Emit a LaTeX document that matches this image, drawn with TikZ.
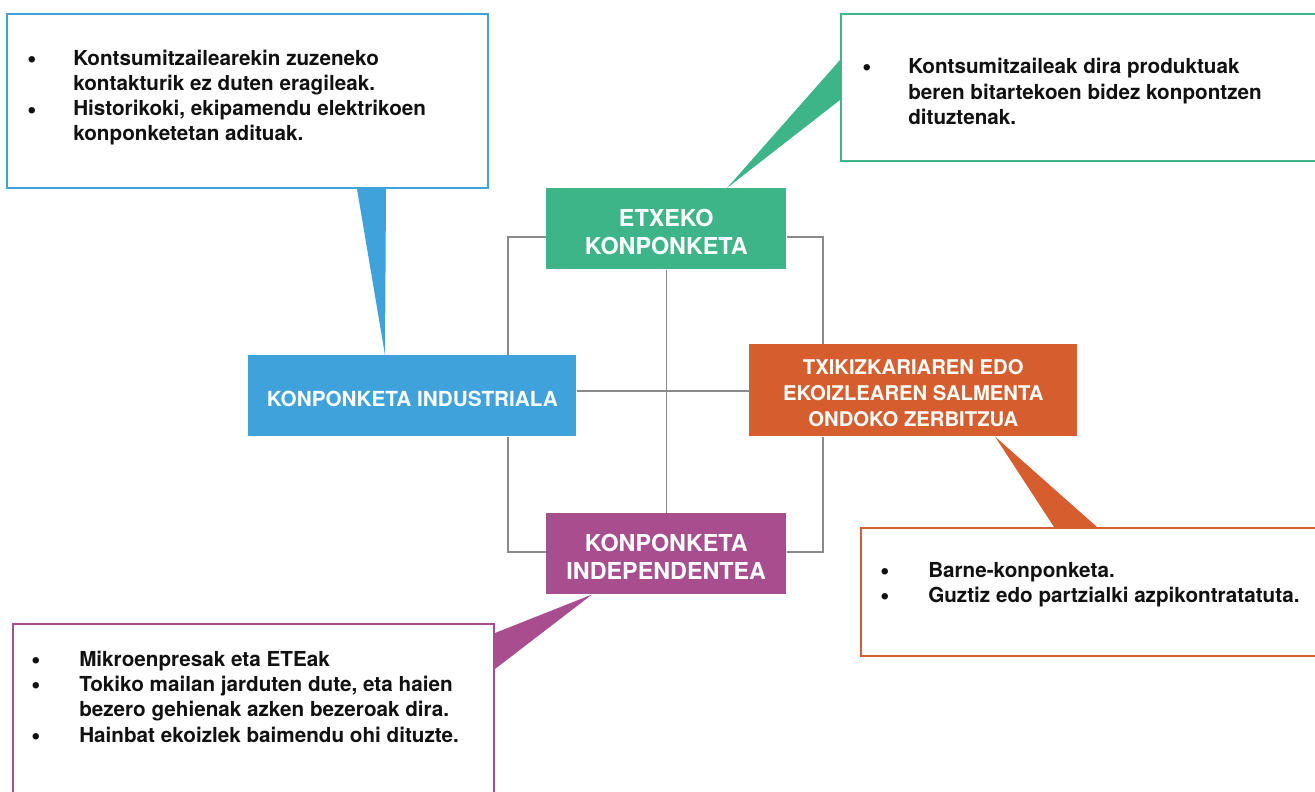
\documentclass[tikz,border=0pt]{standalone}
\usepackage{fontspec}
\setmainfont{TeX Gyre Heros}
\newlength\px
\setlength\px{0.75pt}
\newcommand\firstline{\rule{0pt}{1.01em}}
\newcommand\bigbul{\scalebox{1.25}{\textbullet}}
\definecolor{cblue}{HTML}{3FA2DB}
\definecolor{cgreen}{HTML}{3EB489}
\definecolor{corange}{HTML}{D65D2E}
\definecolor{cpurple}{HTML}{A84D8E}
\definecolor{cgrid}{HTML}{8A8A8A}
\definecolor{ctext}{HTML}{111111}
\pgfdeclarelayer{bg}
\pgfsetlayers{bg,main}
\begin{document}
\begin{tikzpicture}[x=0.75pt,y=-0.75pt,
  cbox/.style={draw, line width=1.5pt, fill=white, anchor=north west, inner sep=0pt},
  lbl/.style={anchor=north west, inner sep=0pt, text=white, align=center},
  biglbl/.style={lbl, minimum width=240\px, minimum height=81\px, font=\fontsize{17.5pt}{21pt}\selectfont\bfseries},
  bodytxt/.style={anchor=base west, inner sep=0pt, text=ctext, font=\fontsize{15.5pt}{18.75pt}\selectfont\bfseries},
  bul/.style={anchor=base, inner sep=0pt, text=ctext, font=\fontsize{15.5pt}{18.75pt}\selectfont\bfseries},
  gridline/.style={draw=cgrid, line width=1pt}]
\useasboundingbox (0,0) rectangle (1315,792);

% coloured boxes
\node[biglbl, fill=cgreen] (etx) at (546,188) {\firstline ETXEKO\\KONPONKETA};
\node[lbl, fill=cblue, minimum width=328\px, minimum height=81\px, font=\fontsize{15.55pt}{19pt}\selectfont\bfseries] (ind) at (248,355) {\firstline KONPONKETA INDUSTRIALA};
\node[lbl, fill=corange, minimum width=328\px, minimum height=92\px, font=\fontsize{15.2pt}{19.5pt}\selectfont\bfseries] (ors) at (749,344) {\firstline TXIKIZKARIAREN EDO\\EKOIZLEAREN SALMENTA\\ONDOKO ZERBITZUA};
\node[biglbl, fill=cpurple] (indep) at (546,513) {\firstline KONPONKETA\\INDEPENDENTEA};

% callout boxes
\node[cbox, draw=cblue, minimum width=481\px, minimum height=174\px] (tlbox) at (6,13) {};
\node[cbox, draw=cgreen, minimum width=485\px, minimum height=147\px] (trbox) at (840,13) {};
\node[cbox, draw=corange, minimum width=465\px, minimum height=128\px] (brbox) at (860,527) {};
\node[cbox, draw=cpurple, minimum width=481\px, minimum height=177\px] (blbox) at (12,623) {};

% helper coordinates
\coordinate (gtl) at (508,237);
\coordinate (gbr) at (823,552);
\coordinate (gc) at (666,391);
\coordinate (a1) at (357,0);
\coordinate (a2) at (386,0);
\coordinate (a3) at (385,0);
\coordinate (b1) at (0,60);
\coordinate (b2) at (0,100);
\coordinate (b3) at (727,0);
\coordinate (c1) at (1054,0);
\coordinate (c2) at (1097,0);
\coordinate (c3) at (995,0);
\coordinate (d1) at (0,633);
\coordinate (d2) at (0,669);
\coordinate (d3) at (592,0);

\begin{pgfonlayer}{bg}
  % pointers
  \fill[cblue] (tlbox.south -| a1) -- (tlbox.south -| a2) -- (ind.north -| a3) -- cycle;
  \fill[cgreen] (trbox.west |- b1) -- (trbox.west |- b2) -- (etx.north -| b3) -- cycle;
  \fill[corange] (brbox.north -| c1) -- (brbox.north -| c2) -- (ors.south -| c3) -- cycle;
  \fill[cpurple] (blbox.east |- d1) -- (blbox.east |- d2) -- (indep.south -| d3) -- cycle;
  % grid
  \draw[gridline] (etx.west |- gtl) -- (gtl) -- (gtl |- ind.north);
  \draw[gridline] (gtl |- ind.south) -- (gtl |- gbr) -- (indep.west |- gbr);
  \draw[gridline] (indep.east |- gbr) -- (gbr) -- (gbr |- ors.south);
  \draw[gridline] (gbr |- ors.north) -- (gbr |- gtl) -- (etx.east |- gtl);
  \draw[gridline] (etx.south) -- (indep.north);
  \draw[gridline] (ind.east |- gc) -- (ors.west |- gc);
\end{pgfonlayer}

% top-left text
\node[bul] (tlb1) at (32,68) {\bigbul};
\node[bodytxt] (tlt1) at (73,66) {Kontsumitzailearekin zuzeneko};
\node[bodytxt] (tlt2) at (73,91) {kontakturik ez duten eragileak.};
\node[bul] (tlb2) at (32,118) {\bigbul};
\node[bodytxt] (tlt3) at (73,116) {Historikoki, ekipamendu elektrikoen};
\node[bodytxt] (tlt4) at (73,141) {konponketetan adituak.};

% top-right text
\node[bul] (trb1) at (867,76) {\bigbul};
\node[bodytxt] (trt1) at (908,74) {Kontsumitzaileak dira produktuak};
\node[bodytxt] (trt2) at (908,99) {beren bitartekoen bidez konpontzen};
\node[bodytxt] (trt3) at (908,124) {dituztenak.};

% bottom-right text
\node[bul] (brb1) at (885,579) {\bigbul};
\node[bodytxt] (brt1) at (928,577) {Barne-konponketa.};
\node[bul] (brb2) at (885,604) {\bigbul};
\node[bodytxt] (brt2) at (928,602) {Guztiz edo partzialki azpikontratatuta.};

% bottom-left text
\node[bul] (blb1) at (36,668) {\bigbul};
\node[bodytxt] (blt1) at (79,666) {Mikroenpresak eta ETEak};
\node[bul] (blb2) at (36,693) {\bigbul};
\node[bodytxt] (blt2) at (79,691) {Tokiko mailan jarduten dute, eta haien};
\node[bodytxt] (blt3) at (79,716) {bezero gehienak azken bezeroak dira.};
\node[bul] (blb3) at (36,744) {\bigbul};
\node[bodytxt] (blt4) at (79,742) {Hainbat ekoizlek baimendu ohi dituzte.};
\end{tikzpicture}
\end{document}
